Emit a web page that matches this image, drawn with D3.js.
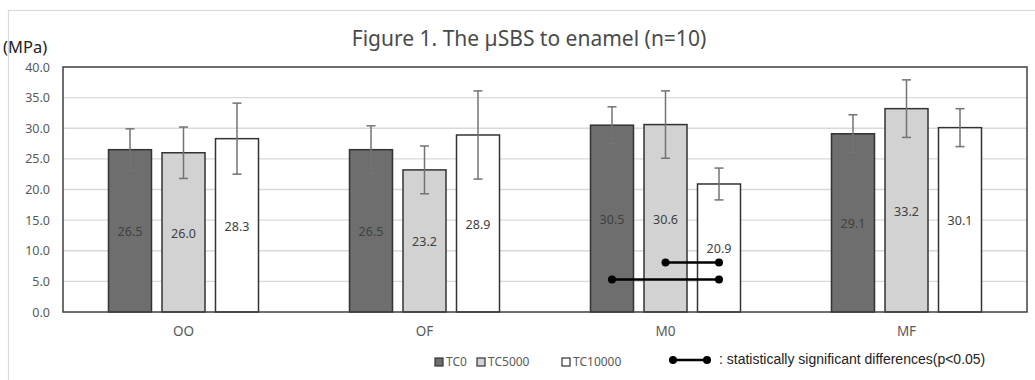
<!DOCTYPE html>
<html><head><meta charset="utf-8">
<script src="https://cdn.jsdelivr.net/npm/d3@7"></script>
<style>
body{margin:0;background:#fff;}
svg{display:block;}
text{font-family:"Noto Sans","Open Sans",sans-serif;}
</style></head>
<body><svg id="c" width="1035" height="380"></svg>
<script>
const categories = ["OO", "OF", "M0", "MF"];
const series = ["TC0", "TC5000", "TC10000"];
const TC0 = [26.5, 26.5, 30.5, 29.1];
const TC5000 = [26.0, 23.2, 30.6, 33.2];
const TC10000 = [28.3, 28.9, 20.9, 30.1];
const sdTC0 = [3.4, 3.9, 3.0, 3.1];
const sdTC5000 = [4.2, 3.9, 5.5, 4.7];
const sdTC10000 = [5.8, 7.2, 2.6, 3.1];
const yTicks = [0, 5, 10, 15, 20, 25, 30, 35, 40];
const sigPairs = [
  {cat: "M0", from: "TC5000", to: "TC10000", y: 8.1},
  {cat: "M0", from: "TC0", to: "TC10000", y: 5.3}
];
const title = "Figure 1. The \u00b5SBS to enamel (n=10)";
const yLabel = "(MPa)";
const sigText = ": statistically significant differences(p<0.05)";

const values = {TC0, TC5000, TC10000};
const sds = {TC0: sdTC0, TC5000: sdTC5000, TC10000: sdTC10000};
const fills = {TC0: "#6e6e6e", TC5000: "#d2d2d2", TC10000: "#ffffff"};

const svg = d3.select("#c");
// outer chart frame
svg.append("rect").attr("x", 8.5).attr("y", 10.5).attr("width", 1040).attr("height", 400)
  .attr("fill", "none").attr("stroke", "#d9d9d9").attr("stroke-width", 1.2);

const L = 63, R = 1027, T = 67, B = 312;
const x = d3.scaleBand().domain(categories).range([L, R]);
const barW = 43, gap = 10.5;
const xs = d3.scaleBand().domain(series).range([0, 3 * barW + 2 * gap]).paddingInner(gap / (barW + gap));
const groupOff = (x.bandwidth() - (3 * barW + 2 * gap)) / 2;
const y = d3.scaleLinear().domain([0, 40]).range([B, T]);

// gridlines
svg.append("g").selectAll("line").data(yTicks.slice(1, -1)).join("line")
  .attr("x1", L).attr("x2", R).attr("y1", d => y(d)).attr("y2", d => y(d))
  .attr("stroke", "#d9d9d9").attr("stroke-width", 1.3);

// y axis labels
const yAxis = d3.axisLeft(y).tickValues(yTicks).tickFormat(d3.format(".1f")).tickSize(0).tickPadding(13);
const ya = svg.append("g").attr("transform", `translate(${L},0)`).call(yAxis);
ya.select(".domain").remove();
ya.selectAll("text").attr("fill", "#595959").style("font-size", "12.5px").style("font-family", "Noto Sans");

// x axis labels
const xAxis = d3.axisBottom(x).tickSize(0).tickPadding(14);
const xa = svg.append("g").attr("transform", `translate(0,${B})`).call(xAxis);
xa.select(".domain").remove();
xa.selectAll("text").attr("fill", "#595959").style("font-size", "13.5px").style("font-family", "Noto Sans");

// bars
const rows = [];
categories.forEach((c, i) => series.forEach(s => rows.push({c, s, v: values[s][i], sd: sds[s][i]})));
const bx = d => x(d.c) + groupOff + xs(d.s);
svg.append("g").selectAll("rect").data(rows).join("rect")
  .attr("x", bx).attr("width", xs.bandwidth())
  .attr("y", d => y(d.v)).attr("height", d => y(0) - y(d.v))
  .attr("fill", d => fills[d.s]).attr("stroke", "#333").attr("stroke-width", 1.5);

// plot frame
svg.append("rect").attr("x", L).attr("y", T).attr("width", R - L).attr("height", B - T)
  .attr("fill", "none").attr("stroke", "#404040").attr("stroke-width", 1.5);

// error bars
const eb = svg.append("g").attr("stroke", "#737373").attr("stroke-width", 1.5);
rows.forEach(d => {
  const cx = bx(d) + xs.bandwidth() / 2;
  eb.append("line").attr("x1", cx).attr("x2", cx).attr("y1", y(d.v + d.sd)).attr("y2", y(d.v - d.sd));
  [d.v + d.sd, d.v - d.sd].forEach(v => eb.append("line").attr("x1", cx - 4.5).attr("x2", cx + 4.5).attr("y1", y(v)).attr("y2", y(v)));
});

// data labels
svg.append("g").selectAll("text").data(rows).join("text")
  .attr("x", d => bx(d) + xs.bandwidth() / 2)
  .attr("y", d => (y(d.v) + y(0)) / 2 + 1)
  .attr("text-anchor", "middle").attr("dominant-baseline", "central")
  .attr("fill", "#404040").style("font-size", "12.5px")
  .text(d => d.v.toFixed(1));

// significance lines
const sg = svg.append("g");
sigPairs.forEach(p => {
  const cx = s => bx({c: p.cat, s}) + xs.bandwidth() / 2;
  const x1 = cx(p.from), x2 = cx(p.to), yy = y(p.y);
  sg.append("line").attr("x1", x1).attr("x2", x2).attr("y1", yy).attr("y2", yy).attr("stroke", "#000").attr("stroke-width", 2.5);
  [x1, x2].forEach(xx => sg.append("circle").attr("cx", xx).attr("cy", yy).attr("r", 4).attr("fill", "#000"));
});

// title
svg.append("text").attr("x", 529).attr("y", 46).attr("text-anchor", "middle")
  .attr("fill", "#4a4a4a").style("font-size", "21px").text(title);
svg.append("text").attr("x", 3).attr("y", 53).attr("fill", "#222").style("font-size", "16.5px").text(yLabel);

// legend
const lg = svg.append("g");
const legX = [435, 477, 562];
series.forEach((s, i) => {
  lg.append("rect").attr("x", legX[i]).attr("y", 358).attr("width", 8).attr("height", 8)
    .attr("fill", fills[s]).attr("stroke", "#333").attr("stroke-width", 1.2);
  lg.append("text").attr("x", legX[i] + 11).attr("y", 366).attr("fill", "#595959").style("font-size", "12px").text(s);
});
lg.append("line").attr("x1", 673).attr("x2", 707).attr("y1", 360).attr("y2", 360).attr("stroke", "#000").attr("stroke-width", 2.5);
[673, 707].forEach(xx => lg.append("circle").attr("cx", xx).attr("cy", 360).attr("r", 4).attr("fill", "#000"));
lg.append("text").attr("x", 719).attr("y", 364).attr("fill", "#222")
  .style("font-family", "'Liberation Sans Narrow','Arial Narrow',sans-serif").style("font-size", "14px").text(sigText);
</script></body></html>
